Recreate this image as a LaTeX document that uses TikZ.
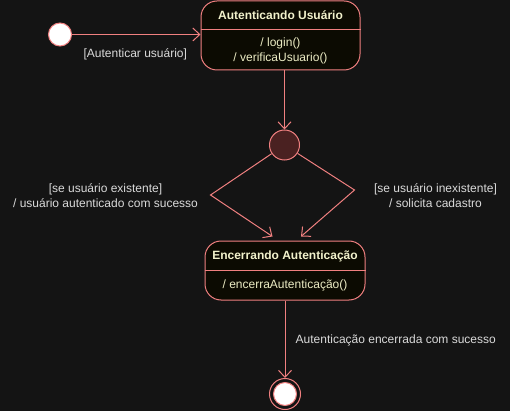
\documentclass[tikz,border=0pt]{standalone}
\usepackage{fontspec}
\setmainfont{Liberation Sans}
\usetikzlibrary{positioning, arrows.meta}
\definecolor{bgdark}{HTML}{141414}
\definecolor{edgered}{HTML}{F08080}
\definecolor{statefill}{HTML}{0C0B02}
\definecolor{choicered}{HTML}{4A2121}
\definecolor{titlecream}{HTML}{F2F2CC}
\definecolor{actioncream}{HTML}{ECECC4}
\definecolor{labelgrey}{HTML}{DADADA}

\begin{document}
\begin{tikzpicture}[x=1pt, y=-1pt, font=\fontsize{12}{15}\selectfont,
    flow/.style={draw=edgered, line width=1pt, -{Straight Barb[length=7pt,width=13pt]}},
    statebox/.style={draw=edgered, fill=statefill, line width=1pt, rounded corners=16pt, inner sep=0pt},
    statetitle/.style={text=titlecream, font=\fontsize{12}{15}\selectfont\bfseries},
    stateaction/.style={text=actioncream, align=center},
    guard/.style={text=labelgrey, align=center},
    pseudo/.style={circle, draw=edgered, line width=1pt, inner sep=0pt}]
  \fill[bgdark] (0,0) rectangle (510,411);
  \useasboundingbox (0,0) rectangle (510,411);

  % initial state
  \node[pseudo, fill=white, minimum size=23pt] (start) at (60,34.5) {};

  % Autenticando Usuario
  \node[statebox, minimum width=159pt, minimum height=69pt] (auth) at (280.5,35.5) {};
  \draw[edgered, line width=1pt] (auth.west |- 0,30) -- (auth.east |- 0,30);
  \node[statetitle] (authtitle) at (280.5,15.5) {Autenticando Usuário};
  \node[stateaction] (authact) at (280.5,51) {/ login()\\/ verificaUsuario()};

  % choice
  \node[pseudo, fill=choicered, minimum size=30pt] (choice) at (284.5,145) {};
  \coordinate (leftbend) at (210.5,195);
  \coordinate (rightbend) at (354.5,190);
  \coordinate (leftin) at (272.5,236.5);
  \coordinate (rightin) at (301,236.5);

  % Encerrando Autenticacao
  \node[statebox, minimum width=160pt, minimum height=59pt] (close) at (285,270.5) {};
  \draw[edgered, line width=1pt] (close.west |- 0,270.5) -- (close.east |- 0,270.5);
  \node[statetitle] (closetitle) at (285,256) {Encerrando Autenticação};
  \node[stateaction] (closeact) at (285,285) {/ encerraAutenticação()};

  % final state
  \node[pseudo, fill=bgdark, minimum size=31pt] (final) at (285,394) {};
  \node[pseudo, fill=white, minimum size=23pt] (finaldot) at (final) {};

  % transitions
  \draw[flow] (start) -- (start -| auth.west);
  \node[guard] (startguard) at (135.3,54.3) {[Autenticar usuário]};
  \draw[flow] (auth.south -| choice) -- (choice);
  \draw[flow] (choice) -- (leftbend) -- (leftin);
  \draw[flow] (choice) -- (rightbend) -- (rightin);
  \node[guard] (leftguard) at (105.5,195.5) {[se usuário existente]\\/ usuário autenticado com sucesso};
  \node[guard] (rightguard) at (435.5,195.5) {[se usuário inexistente]\\/ solicita cadastro};
  \draw[flow] (close.south -| final) -- (final);
  \node[guard, anchor=west, inner sep=0pt] (closeguard) at (295.5,340) {Autenticação encerrada com sucesso};
\end{tikzpicture}
\end{document}
